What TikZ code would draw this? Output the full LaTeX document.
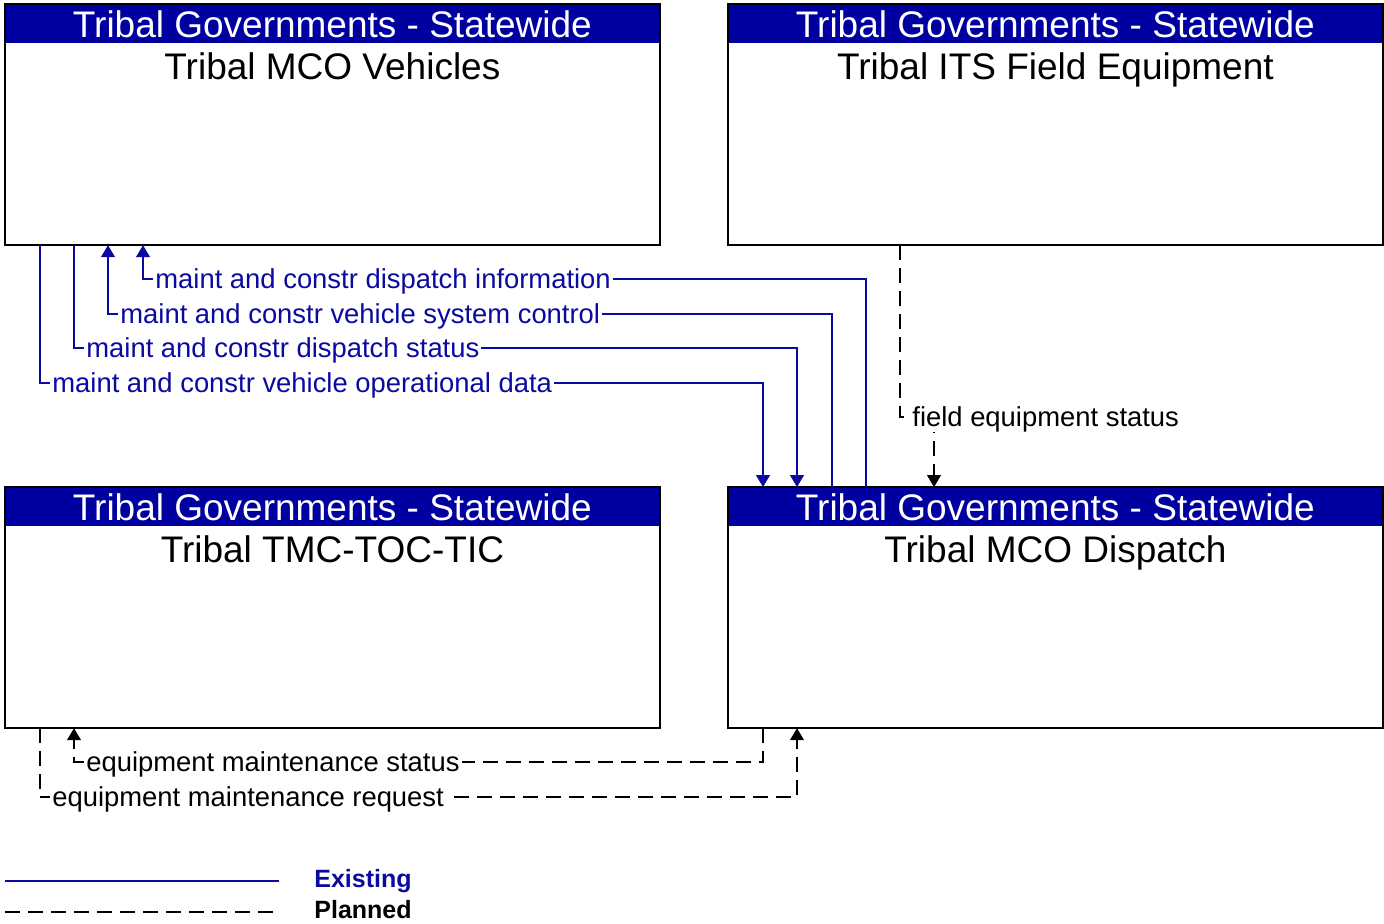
\documentclass[tikz,border=0pt]{standalone}
\usepackage{fontspec}
\setmainfont{Liberation Sans}
\usetikzlibrary{positioning,arrows.meta,calc}
\definecolor{headc}{HTML}{0000A0}
\definecolor{existc}{HTML}{0A0AA0}
\tikzset{
  elembox/.style={draw=black,line width=0.6pt,minimum width=327pt,minimum height=120pt,anchor=north west,inner sep=0pt},
  headbar/.style={fill=headc,text=white,minimum width=327pt,minimum height=19.5pt,anchor=north west,inner sep=0pt,font=\fontsize{18.5}{20}\selectfont},
  elemname/.style={anchor=north,inner sep=0pt,font=\fontsize{18.5}{20}\selectfont},
  exist/.style={existc,line width=0.6pt},
  planned/.style={black,line width=0.6pt,dash pattern=on 7.5pt off 4pt},
  flowlbl/.style={fill=white,inner xsep=1pt,inner ysep=0pt,anchor=west,yshift=-1pt,font=\fontsize{13.7}{15}\selectfont},
  tip/.style={-{Triangle[length=6pt,width=7pt]}},
  legendlbl/.style={anchor=west,inner sep=0pt,font=\bfseries\fontsize{12.5}{14}\selectfont}
}
% one element: name, x, y, title
\newcommand{\elem}[4]{%
  \node[elembox] (#1) at (#2,#3) {};
  \node[headbar] (#1h) at (#1.north west) {Tribal Governments - Statewide};
  \draw[line width=0.6pt] (#1.north west) rectangle (#1.south east);
  \node[elemname] (#1t) at ([yshift=-4pt]#1h.south) {#4};
}

\begin{document}
\begin{tikzpicture}[x=0.5pt,y=-0.5pt]
  \useasboundingbox (0,0) rectangle (1384,923);
  \elem{veh}{5}{4}{Tribal MCO Vehicles}
  \elem{fld}{728}{4}{Tribal ITS Field Equipment}
  \elem{tmc}{5}{487}{Tribal TMC-TOC-TIC}
  \elem{disp}{728}{487}{Tribal MCO Dispatch}

  % existing flows
  \draw[exist,tip] (866,0 |- disp.north) |- (143,279) -- (143,0 |- veh.south);
  \node[flowlbl,text=existc] (f1) at (153,279) {maint and constr dispatch information};
  \draw[exist,tip] (832,0 |- disp.north) |- (108,314) -- (108,0 |- veh.south);
  \node[flowlbl,text=existc] (f2) at (118,314) {maint and constr vehicle system control};
  \draw[exist,tip] (74,0 |- veh.south) |- (797,348) -- (797,0 |- disp.north);
  \node[flowlbl,text=existc] (f3) at (84,348) {maint and constr dispatch status};
  \draw[exist,tip] (40,0 |- veh.south) |- (763,383) -- (763,0 |- disp.north);
  \node[flowlbl,text=existc] (f4) at (50,383) {maint and constr vehicle operational data};

  % planned flows
  \draw[planned,tip] (900,0 |- fld.south) |- (934,417) -- (934,0 |- disp.north);
  \node[flowlbl] (f5) at (910,417) {field equipment status};
  \draw[planned,tip] (763,0 |- disp.south) |- (74,762) -- (74,0 |- tmc.south);
  \node[flowlbl] (f6) at (84,762) {equipment maintenance status};
  \draw[planned,tip] (40,0 |- tmc.south) |- (797,797) -- (797,0 |- disp.south);
  \node[flowlbl] (f7) at (50,797) {equipment maintenance request};

  % legend
  \coordinate (lg1) at (5,881);
  \coordinate (lg2) at (5,912);
  \draw[exist] (lg1) -- ++(274,0);
  \draw[planned] (lg2) -- ++(274,0);
  \node[legendlbl,text=existc] (lgex) at (314,881) {Existing};
  \node[legendlbl] (lgpl) at (314,910) {Planned};
\end{tikzpicture}
\end{document}
